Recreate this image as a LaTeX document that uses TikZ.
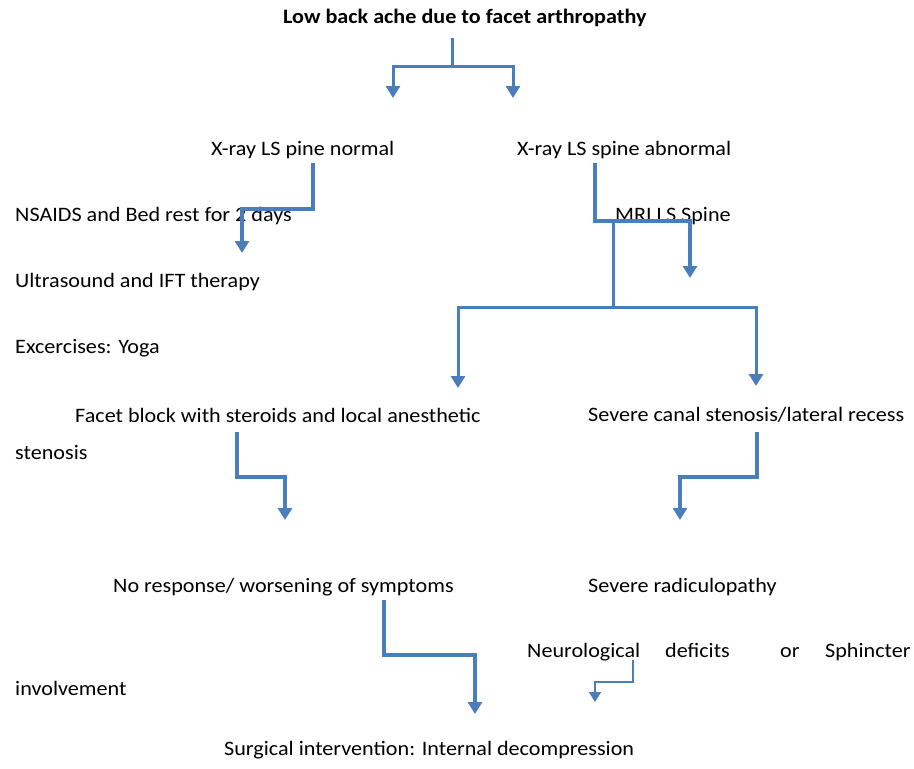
\documentclass[tikz,border=0pt]{standalone}
\usepackage{fontspec}
\setmainfont[FakeStretch=1.08]{Carlito}
\usetikzlibrary{arrows.meta}
\definecolor{ablue}{HTML}{4A7EBB}
\begin{document}
\begin{tikzpicture}[x=1pt,y=-1pt,
 txt/.style={anchor=west,inner sep=0pt,font=\fontsize{20.5}{24}\selectfont},
 conn/.style={draw=ablue,line width=3pt,line join=miter,-{Triangle[width=14pt,length=12pt]}},
 thick4/.style={line width=4pt},
 thin2/.style={line width=2pt,-{Triangle[width=12pt,length=10pt]}},
]
\useasboundingbox (0,0) rectangle (914,769);
% texts
\node[txt,font=\fontsize{20.5}{24}\selectfont\bfseries] (title) at (283,18) {Low back ache due to facet arthropathy};
\node[txt] (xn) at (211,150) {X-ray LS pine normal};
\node[txt] (xa) at (517,150) {X-ray LS spine abnormal};
\node[txt] (nsaids) at (15,216) {NSAIDS and Bed rest for 2 days};
\node[txt] (ultra) at (15,282) {Ultrasound and IFT therapy};
\node[txt] (exer) at (15,348) {Excercises: Yoga};
\node[txt] (mri) at (615,216) {MRI LS Spine};
\node[txt] (facet) at (75,415) {Facet block with steroids and local anesthetic};
\node[txt] (sten) at (15,453) {stenosis};
\node[txt] (canal) at (588,415) {Severe canal stenosis/lateral recess};
\node[txt] (nores) at (113,587) {No response/ worsening of symptoms};
\node[txt] (radic) at (588,587) {Severe radiculopathy};
\node[txt] (neuro) at (527,652) {\makebox[138pt][l]{Neurological}\makebox[115pt][l]{deficits}\makebox[45pt][l]{or}Sphincter};
\node[txt] (invol) at (15,688) {involvement};
\node[txt] (surg) at (224,750) {Surgical intervention: Internal decompression};
% connector points
\coordinate (t0) at (452,38); \coordinate (tj) at (452,66);
\coordinate (tl) at (393,98); \coordinate (tr) at (513,98);
\coordinate (n0) at (313,163); \coordinate (n1) at (313,209); \coordinate (n2) at (242,253);
\coordinate (a0) at (595,163); \coordinate (a1) at (595,221); \coordinate (a2) at (690,278);
\coordinate (b0) at (613,221); \coordinate (b1) at (613,307);
\coordinate (bl) at (458,388); \coordinate (br) at (756,386);
\coordinate (f0) at (237,432); \coordinate (f1) at (237,477); \coordinate (f2) at (285,520);
\coordinate (c0) at (757,432); \coordinate (c1) at (757,477); \coordinate (c2) at (680,520);
\coordinate (r0) at (384,600); \coordinate (r1) at (384,655); \coordinate (r2) at (475,714);
\coordinate (g0) at (633,660); \coordinate (g1) at (633,682); \coordinate (g2) at (595,702);
% connectors
\draw[conn] (t0) -- (tj) -| (tl);
\draw[conn] (t0) -- (tj) -| (tr);
\draw[conn,thick4] (n0) -- (n1) -| (n2);
\draw[conn,line width=3.5pt] (a0) -- (a1) -| (a2);
\draw[conn] (b0) -- (b1) -| (bl);
\draw[conn] (b0) -- (b1) -| (br);
\draw[conn,thick4] (f0) -- (f1) -| (f2);
\draw[conn,line width=3.5pt] (c0) -- (c1) -| (c2);
\draw[conn,thick4] (r0) -- (r1) -| (r2);
\draw[conn,thin2] (g0) -- (g1) -| (g2);
\end{tikzpicture}
\end{document}
